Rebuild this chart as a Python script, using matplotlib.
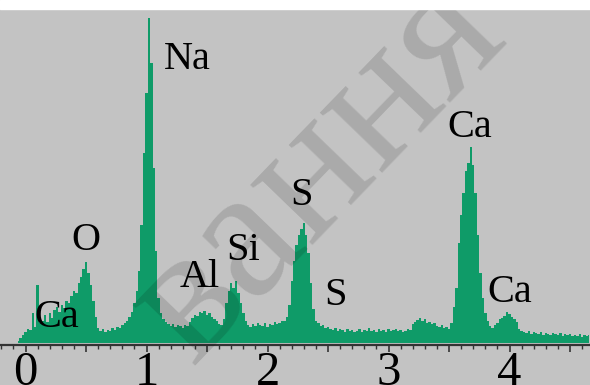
import numpy as np
import matplotlib.pyplot as plt
from matplotlib.ticker import MultipleLocator, FuncFormatter

# EDS spectrum, energy channels (keV) = e_start + e_step * channel
e_start = -0.06
e_step = 0.02

counts = [
    2, 5, 8, 11, 14, 13, 30, 16, 58, 20,            # -0.06 .. 0.12
    22, 28, 21, 30, 25, 33, 36, 31, 38, 35,         # 0.14 .. 0.32
    42, 40, 47, 52, 50, 60, 66, 74, 81, 70,         # 0.34 .. 0.52
    58, 42, 26, 15, 12, 14, 11, 13, 12, 15,         # 0.54 .. 0.72
    13, 16, 15, 18, 20, 22, 26, 31, 40, 52,         # 0.74 .. 0.92
    72, 118, 190, 250, 325, 280, 175, 92, 45, 30,   # 0.94 .. 1.12
    24, 21, 19, 17, 19, 16, 18, 17, 15, 18,         # 1.14 .. 1.32
    17, 21, 25, 28, 27, 31, 30, 32, 28, 30,         # 1.34 .. 1.52
    26, 24, 22, 19, 18, 24, 40, 52, 60, 55,         # 1.54 .. 1.72
    62, 50, 40, 30, 22, 18, 16, 19, 17, 20,         # 1.74 .. 1.92
    18, 17, 20, 16, 19, 18, 21, 19, 20, 22,         # 1.94 .. 2.12
    22, 26, 38, 62, 82, 98, 108, 114, 120, 108,     # 2.14 .. 2.32
    90, 60, 34, 22, 20, 17, 18, 15, 16, 14,         # 2.34 .. 2.52
    13, 15, 12, 14, 13, 11, 14, 12, 13, 11,         # 2.54 .. 2.72
    12, 14, 11, 13, 12, 15, 12, 13, 11, 14,         # 2.74 .. 2.92
    12, 13, 11, 14, 12, 13, 14, 12, 13, 11,         # 2.94 .. 3.12
    12, 14, 13, 19, 21, 23, 25, 22, 24, 20,         # 3.14 .. 3.32
    21, 19, 20, 17, 16, 18, 15, 16, 14, 20,         # 3.34 .. 3.52
    36, 55, 100, 128, 150, 172, 180, 196, 178, 150, # 3.54 .. 3.72
    108, 70, 45, 30, 22, 17, 15, 18, 20, 24,        # 3.74 .. 3.92
    25, 27, 31, 29, 26, 24, 21, 14, 12, 11,         # 3.94 .. 4.12
    10, 12, 9, 11, 10, 9, 11, 8, 10, 9,             # 4.14 .. 4.32
    8, 10, 9, 8, 10, 7, 9, 8, 9, 7,                 # 4.34 .. 4.52
    8, 7, 9, 6, 8, 7, 8,                            # 4.54 .. 4.66
]

# peak labels, anchored at left / baseline
labels = ["Na", "O", "Ca", "Al", "Si", "S", "S", "Ca", "Ca"]
label_e = [1.145, 0.38, 0.075, 1.27, 1.66, 2.19, 2.47, 3.49, 3.82]
label_c = [274, 93, 16, 56, 83, 138, 38, 206, 41]

energy = e_start + e_step * np.arange(len(counts))

bg = '#c3c3c3'
green = '#0f9b68'

fig = plt.figure(figsize=(5.9, 3.85), dpi=100, facecolor=bg)
ax = fig.add_axes([0, 40 / 385, 1, 336 / 385])
ax.set_facecolor(bg)

ax.fill_between(energy, 0, counts, step='mid', color=green, lw=0)

for t, e, c in zip(labels, label_e, label_c):
    ax.text(e, c, t, fontsize=29, family='Liberation Serif', color='black',
            ha='left', va='baseline')

ax.set_xlim(-0.211, 4.665)
ax.set_ylim(-2, 334)

for s in ['top', 'left', 'right']:
    ax.spines[s].set_visible(False)
ax.spines['bottom'].set_color('#333333')
ax.spines['bottom'].set_linewidth(1.6)

ax.xaxis.set_major_locator(MultipleLocator(0.5))
ax.xaxis.set_minor_locator(MultipleLocator(0.1))
ax.xaxis.set_major_formatter(FuncFormatter(lambda v, p: f"{v:.0f}" if abs(v - round(v)) < 1e-6 else ""))
ax.tick_params(axis='x', which='major', length=5, width=1.2, color='#333333', pad=-1,
               labelsize=35)
ax.tick_params(axis='x', which='minor', length=3, width=1.0, color='#333333')
for lab in ax.get_xticklabels():
    lab.set_family('Liberation Serif')
ax.set_yticks([])

# watermark
fig.text(318 / 590, 1 - 170 / 385, "вання", fontsize=135, family='Liberation Serif',
         rotation=46, color='black', alpha=0.13, ha='center', va='center')

# white strip at the top of the scan
fig.patches.append(plt.Rectangle((0, 1 - 9 / 385), 1, 9 / 385, transform=fig.transFigure,
                                 color='white', zorder=5))

fig.savefig('out.png', dpi=100, facecolor=bg)
